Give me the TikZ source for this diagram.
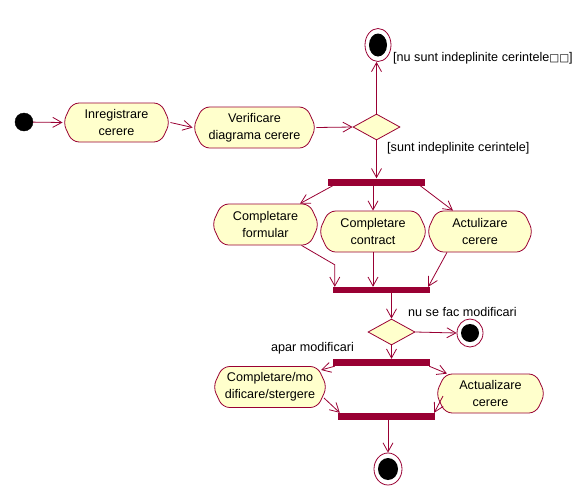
\documentclass[tikz,border=0pt]{standalone}
\usepackage{fontspec}
\setmainfont{Liberation Sans}
\newfontfamily\dejavu{DejaVu Sans}
\usetikzlibrary{shapes.geometric,shapes.symbols,arrows.meta}
\definecolor{umlred}{HTML}{990033}
\definecolor{umlfill}{HTML}{FFFFCC}
\begin{document}
\begin{tikzpicture}[x=1pt,y=-1pt,
  act/.style={signal, signal to=west and east, signal pointer angle=130,
    draw=umlred, fill=umlfill, line width=0.8pt, rounded corners=7pt,
    align=center, inner sep=0pt, font=\fontsize{12.6}{17}\selectfont},
  bar/.style={rectangle, fill=umlred, inner sep=0pt, minimum width=97pt, minimum height=7pt},
  dec/.style={diamond, draw=umlred, fill=umlfill, line width=0.8pt,
    minimum width=47pt, minimum height=26pt, inner sep=0pt},
  endst/.style 2 args={ellipse, draw=umlred, fill=white, line width=0.8pt, inner sep=0pt,
    minimum width=#1pt, minimum height=#2pt,
    path picture={\fill[black] (path picture bounding box.center) ellipse ({#1/2-4} and {#2/2-5});}},
  startst/.style={circle, fill=black, draw=black, minimum size=18pt, inner sep=0pt},
  flow/.style={draw=umlred, line width=0.8pt, -{Straight Barb[length=9pt,width=10pt]}},
  lbl/.style={anchor=west, inner sep=0pt, font=\fontsize{12.6}{14}\selectfont}
]
\useasboundingbox (0,0) rectangle (581,490);

% nodes
\node[startst] (start) at (24,122) {};
\node[act, minimum width=107pt, minimum height=39pt] (inreg) at (116.5,122.5) {Inregistrare\\cerere};
\node[act, minimum width=123pt, minimum height=41pt] (verif) at (254.5,127.5) {Verificare\\diagrama cerere};
\node[dec] (dec1) at (376.5,127) {};
\node[endst={26}{33}] (end1) at (378,45) {};
\node[bar] (fork1) at (376.5,182) {};
\node[act, minimum width=107pt, minimum height=41pt] (formular) at (265.5,224.5) {Completare\\formular};
\node[act, minimum width=108pt, minimum height=41pt] (contract) at (373,231.5) {Completare\\contract};
\node[act, minimum width=106pt, minimum height=41pt] (actul) at (480,231.5) {Actulizare\\cerere};
\node[bar, minimum height=6pt] (join1) at (381.5,290) {};
\node[dec] (dec2) at (391.5,332) {};
\node[endst={26}{28}] (end2) at (470,333) {};
\node[bar] (fork2) at (381.5,362.5) {};
\node[act, minimum width=114pt, minimum height=41pt] (compl) at (270,387) {Completare/mo\\dificare/stergere};
\node[act, minimum width=109pt, minimum height=39pt] (actual2) at (490.5,393.5) {Actualizare\\cerere};
\node[bar] (join2) at (386.5,416.5) {};
\node[endst={28}{32}] (end3) at (388,469) {};

% labels
\node[lbl] (l1) at (393,58) {[nu sunt indeplinite cerintele{\dejavu\fontsize{10.5}{10}\selectfont □□}]};
\node[lbl] (l2) at (387,148) {[sunt indeplinite cerintele]};
\node[lbl] (l3) at (408,312) {nu se fac modificari};
\node[lbl] (l4) at (271,348) {apar modificari};

% connectors
\draw[flow] (start) -- (inreg.west);
\draw[flow] (inreg.east) -- (verif.west);
\draw[flow] (verif.east) -- (dec1.west);
\draw[flow] (dec1.north) -- (dec1.north |- end1.south);
\draw[flow] (dec1.south) -- (dec1.south |- fork1.north);
\draw[flow] ([xshift=5pt]fork1.south west) -- ([xshift=34.5pt]formular.north);
\draw[flow] (contract.north |- fork1.south) -- (contract.north);
\draw[flow] ([xshift=-5pt]fork1.south east) -- ([xshift=-27pt]actul.north);
\draw[flow] ([xshift=36pt]formular.south) -- ([xshift=2pt,yshift=22pt]join1.north west) -- ([xshift=2pt]join1.north west);
\draw[flow] (contract.south) -- (contract.south |- join1.north);
\draw[flow] ([xshift=-33pt]actul.south) -- ([xshift=-2pt]join1.north east);
\draw[flow] (dec2.north |- join1.south) -- (dec2.north);
\draw[flow] (dec2.east) -- (end2.west);
\draw[flow] (dec2.south) -- (dec2.south |- fork2.north);
\draw[flow] ([xshift=2pt]fork2.south west) -- ([xshift=51pt,yshift=17pt]compl.center);
\draw[flow] ([xshift=-1pt]fork2.south east) -- ([xshift=-43.5pt]actual2.north);
\draw[flow] ([xshift=54pt,yshift=-11pt]compl.center) -- ([xshift=2pt]join2.north west);
\draw[flow] ([xshift=-47.5pt,yshift=-2.5pt]actual2.center) -- ([xshift=-1pt]join2.north east);
\draw[flow] (end3.north |- join2.south) -- (end3.north);
\end{tikzpicture}
\end{document}
